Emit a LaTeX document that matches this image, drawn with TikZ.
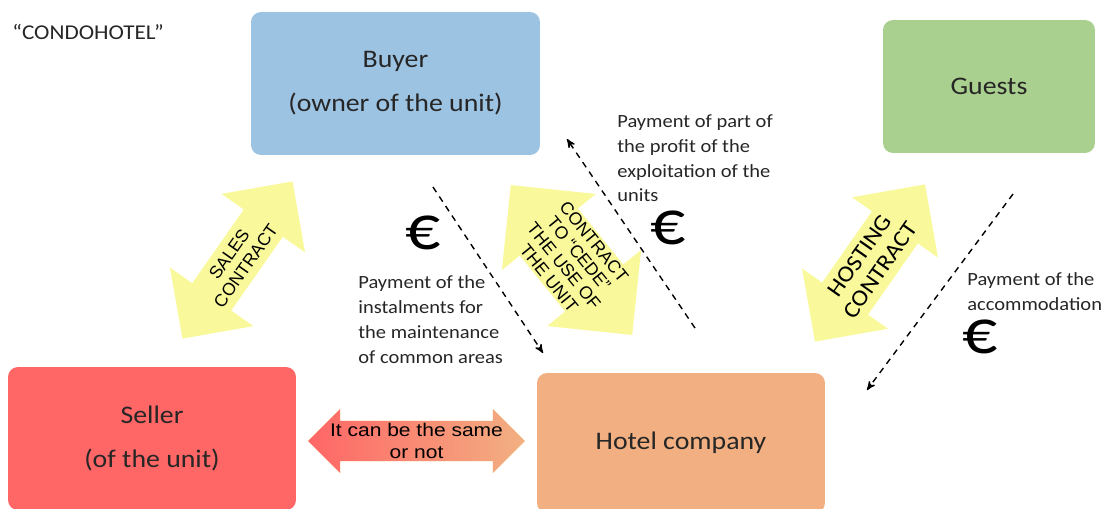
\documentclass[tikz,border=0pt]{standalone}
\usepackage{fontspec}
\setmainfont{Carlito}[FakeStretch=1.1]
\newfontfamily\arrowfont{Liberation Sans}
\newfontfamily\widearrowfont{Liberation Sans}[FakeStretch=1.15]
\usepackage{tikz}
\usetikzlibrary{arrows,shapes.arrows}

\definecolor{buyerblue}{RGB}{157,195,227}
\definecolor{guestgreen}{RGB}{169,208,142}
\definecolor{sellerred}{RGB}{255,102,102}
\definecolor{hotelorange}{RGB}{242,176,130}
\definecolor{contractyellow}{RGB}{249,249,156}
\definecolor{textgrey}{RGB}{38,38,38}

\begin{document}
\begin{tikzpicture}[x=0.02cm,y=-0.02cm,>=stealth',
                      party node/.style={rectangle,rounded corners=0.2cm,inner sep=0pt,align=center,
                        text=textgrey,font=\fontsize{14.4}{25}\selectfont},
                      contract node/.style={double arrow,double arrow head extend=#1,fill=contractyellow,
                        inner sep=0pt,align=center,text=black},
                      pay node/.style={anchor=north west,inner sep=0pt,align=left,text=textgrey,
                        font=\fontsize{10.6}{14.2}\selectfont},
                      euro node/.style={inner sep=0pt,font=\fontsize{36}{36}\selectfont},
                      payment/.style={->,line width=0.8pt,dash pattern=on 3.5pt off 3pt}]

    \useasboundingbox (0,0) rectangle (1103,508);
    \clip (0,0) rectangle (1103,508);

    \node[anchor=west,inner sep=0pt,text=textgrey,font=\fontsize{12}{14}\selectfont] (title) at (12,32) {``CONDOHOTEL''};

    % the four parties
    \node[party node,fill=buyerblue,minimum width=5.78cm,minimum height=2.86cm] (buyer) at (395.5,83.5) {Buyer\\(owner of the unit)};
    \node[party node,fill=guestgreen,minimum width=4.24cm,minimum height=2.66cm] (guests) at (989,86.5) {Guests};
    \node[party node,fill=sellerred,minimum width=5.76cm,minimum height=2.86cm] (seller) at (152,438.5) {Seller\\(of the unit)};
    \node[party node,fill=hotelorange,minimum width=5.76cm,minimum height=2.8cm] (hotel) at (681,443) {Hotel company};

    % contracts between them
    \node[contract node=0.38cm,rotate=55,minimum height=3.84cm,minimum width=2.04cm,
          font=\arrowfont\fontsize{10}{11.5}\selectfont] (sales) at (237.5,260) {SALES\\CONTRACT};
    \node[contract node=0.44cm,rotate=-51,minimum height=3.86cm,minimum width=2.42cm,
          font=\arrowfont\fontsize{10}{11}\selectfont] (cede) at (571.5,260) {CONTRACT\\TO “CEDE”\\THE USE OF\\THE UNIT};
    \node[contract node=0.36cm,rotate=55,minimum height=3.84cm,minimum width=2.1cm,
          font=\fontsize{13}{14.5}\selectfont] (hosting) at (870,263) {HOSTING\\CONTRACT};
    \node[contract node=0.21cm,minimum height=4.34cm,minimum width=1.28cm,
          left color=sellerred,middle color=hotelorange!85!sellerred,right color=hotelorange,
          font=\widearrowfont\fontsize{10.4}{12}\selectfont] (same) at (416.5,441) {It can be the same\\or not};

    % money flows
    \coordinate (instal from) at (433,187);
    \coordinate (instal to) at (543,353);
    \coordinate (profit from) at (695,328);
    \coordinate (profit to) at (567,139);
    \coordinate (accom from) at (1013,194);
    \coordinate (accom to) at (867,390);

    \path[payment]
      (instal from) edge (instal to)
      (profit from) edge (profit to)
      (accom from) edge (accom to)
    ;

    \node[euro node] (euro instal) at (423,233) {€};
    \node[euro node] (euro profit) at (668,228) {€};
    \node[euro node] (euro accom) at (980,337) {€};

    \node[pay node] (instal text) at (358,275) {Payment of the\\instalments for\\the maintenance\\of common areas};
    \node[pay node] (profit text) at (617,114) {Payment of part of\\the profit of the\\exploitation of the\\units};
    \node[pay node] (accom text) at (967,272) {Payment of the\\accommodation};

  \end{tikzpicture}
\end{document}
